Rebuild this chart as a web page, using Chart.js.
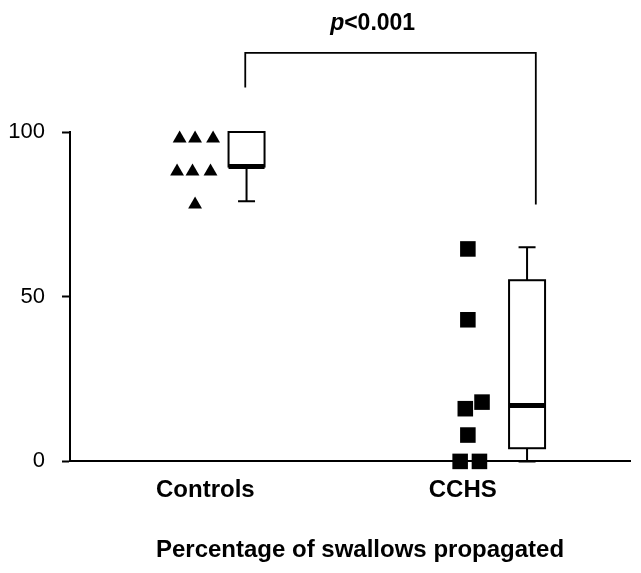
<!DOCTYPE html>
<html>
<head>
<meta charset="utf-8">
<script src="https://cdn.jsdelivr.net/npm/chart.js@4.4.1/dist/chart.umd.min.js"></script>
<style>
  html, body { margin: 0; padding: 0; background: #fff; }
</style>
</head>
<body>
<canvas id="chart" width="641" height="573"></canvas>
<script>
const groupLabels = ['Controls', 'CCHS'];
const yTicks = [0, 50, 100];

// individual subjects: x = group position + jitter
const controlsX = [0.90, 0.96, 1.03, 0.89, 0.95, 1.02, 0.96];
const controlsY = [98, 98, 98, 88, 88, 88, 78];
const cchsX = [2.02, 2.02, 2.075, 2.01, 2.02, 1.99, 2.065];
const cchsY = [64.5, 43, 18, 16, 8, 0, 0];

// box plot summary per group
const boxMin = [79, 0];
const boxQ1 = [89.5, 4];
const boxMedian = [89.5, 17];
const boxQ3 = [100, 55];
const boxMax = [100, 65];

const pValueText = ['p', '<0.001'];

const FONT = "'Liberation Sans', Arial, sans-serif";

// draws the box-and-whisker for each group next to its points
const boxPlugin = {
    id: 'boxes',
    afterDatasetsDraw(chart, args, opts) {
        const { ctx, scales: { x, y } } = chart;
        ctx.save();
        ctx.strokeStyle = '#000';
        boxMin.forEach((_, i) => {
            const cx = x.getPixelForValue(opts.at[i]);
            const half = opts.width / 2;
            const cap = opts.cap / 2;
            const yMin = y.getPixelForValue(boxMin[i]);
            const yQ1 = y.getPixelForValue(boxQ1[i]);
            const yMed = y.getPixelForValue(boxMedian[i]);
            const yQ3 = y.getPixelForValue(boxQ3[i]);
            const yMax = y.getPixelForValue(boxMax[i]);

            ctx.lineWidth = 2;
            ctx.beginPath();
            ctx.moveTo(cx, yQ3); ctx.lineTo(cx, yMax);
            ctx.moveTo(cx - cap, yMax); ctx.lineTo(cx + cap, yMax);
            ctx.moveTo(cx, yQ1); ctx.lineTo(cx, yMin);
            ctx.moveTo(cx - cap, yMin); ctx.lineTo(cx + cap, yMin);
            ctx.stroke();

            ctx.fillStyle = '#fff';
            ctx.fillRect(cx - half, yQ3, half * 2, yQ1 - yQ3);
            ctx.strokeRect(cx - half, yQ3, half * 2, yQ1 - yQ3);

            ctx.lineWidth = 5;
            ctx.beginPath();
            ctx.moveTo(cx - half, yMed); ctx.lineTo(cx + half, yMed);
            ctx.stroke();
        });
        ctx.restore();
    }
};

// significance bracket and p value above the plot
const bracketPlugin = {
    id: 'bracket',
    afterDraw(chart, args, opts) {
        const { ctx, scales: { x, y } } = chart;
        const x1 = x.getPixelForValue(opts.from);
        const x2 = x.getPixelForValue(opts.to);
        const yTop = y.getPixelForValue(opts.top);
        ctx.save();
        ctx.strokeStyle = '#000';
        ctx.lineWidth = 1.8;
        ctx.beginPath();
        ctx.moveTo(x1, y.getPixelForValue(opts.leftEnd));
        ctx.lineTo(x1, yTop);
        ctx.lineTo(x2, yTop);
        ctx.lineTo(x2, y.getPixelForValue(opts.rightEnd));
        ctx.stroke();

        ctx.fillStyle = '#000';
        ctx.textBaseline = 'alphabetic';
        ctx.font = 'italic bold 23px ' + FONT;
        const w1 = ctx.measureText(pValueText[0]).width;
        ctx.font = 'bold 23px ' + FONT;
        const w2 = ctx.measureText(pValueText[1]).width;
        const left = x.getPixelForValue(opts.textAt) - (w1 + w2) / 2;
        const base = y.getPixelForValue(opts.textY);
        ctx.font = 'italic bold 23px ' + FONT;
        ctx.fillText(pValueText[0], left, base);
        ctx.font = 'bold 23px ' + FONT;
        ctx.fillText(pValueText[1], left + w1, base);
        ctx.restore();
    }
};

const toPoints = (xs, ys) => xs.map((v, i) => ({ x: v, y: ys[i] }));

new Chart(document.getElementById('chart'), {
    type: 'scatter',
    data: {
        datasets: [
            {
                label: groupLabels[0],
                data: toPoints(controlsX, controlsY),
                pointStyle: 'triangle',
                pointRadius: 8,
                backgroundColor: '#000',
                borderColor: '#000',
                borderWidth: 0,
                clip: false
            },
            {
                label: groupLabels[1],
                data: toPoints(cchsX, cchsY),
                pointStyle: 'rect',
                pointRadius: 11,
                backgroundColor: '#000',
                borderColor: '#000',
                borderWidth: 0,
                clip: false
            }
        ]
    },
    options: {
        responsive: false,
        animation: false,
        events: [],
        layout: { padding: { top: 132, left: 8, right: 0, bottom: 0 } },
        plugins: {
            legend: { display: false },
            tooltip: { enabled: false },
            boxes: { at: [1.16, 2.25], width: 36, cap: 17 },
            bracket: { from: 1.155, to: 2.284, top: 124, leftEnd: 113.5, rightEnd: 78, textAt: 1.65, textY: 131 }
        },
        scales: {
            x: {
                type: 'linear',
                min: 0.474,
                max: 2.65,
                afterBuildTicks: scale => { scale.ticks = groupLabels.map((_, i) => ({ value: i + 1 })); },
                ticks: {
                    color: '#000',
                    font: { family: FONT, size: 24, weight: 'bold' },
                    padding: 15,
                    callback: v => groupLabels[v - 1]
                },
                grid: { display: true, drawOnChartArea: false, drawTicks: false },
                border: { display: true, color: '#000', width: 2 },
                title: {
                    display: true,
                    // leading spaces nudge the centred title right, as in the original
                    text: '\u00a0\u00a0\u00a0Percentage of swallows propagated',
                    color: '#000',
                    font: { family: FONT, size: 24, weight: 'bold' },
                    padding: { top: 16, bottom: 8 }
                }
            },
            y: {
                min: 0,
                max: 100,
                afterBuildTicks: scale => { scale.ticks = yTicks.map(v => ({ value: v })); },
                afterFit: scale => { scale.width = 62; },
                ticks: {
                    color: '#000',
                    font: { family: FONT, size: 22 },
                    padding: 17
                },
                grid: { drawOnChartArea: false, tickLength: 8, tickColor: '#000', tickWidth: 2 },
                border: { display: true, color: '#000', width: 2 }
            }
        }
    },
    plugins: [boxPlugin, bracketPlugin]
});
</script>
</body>
</html>
